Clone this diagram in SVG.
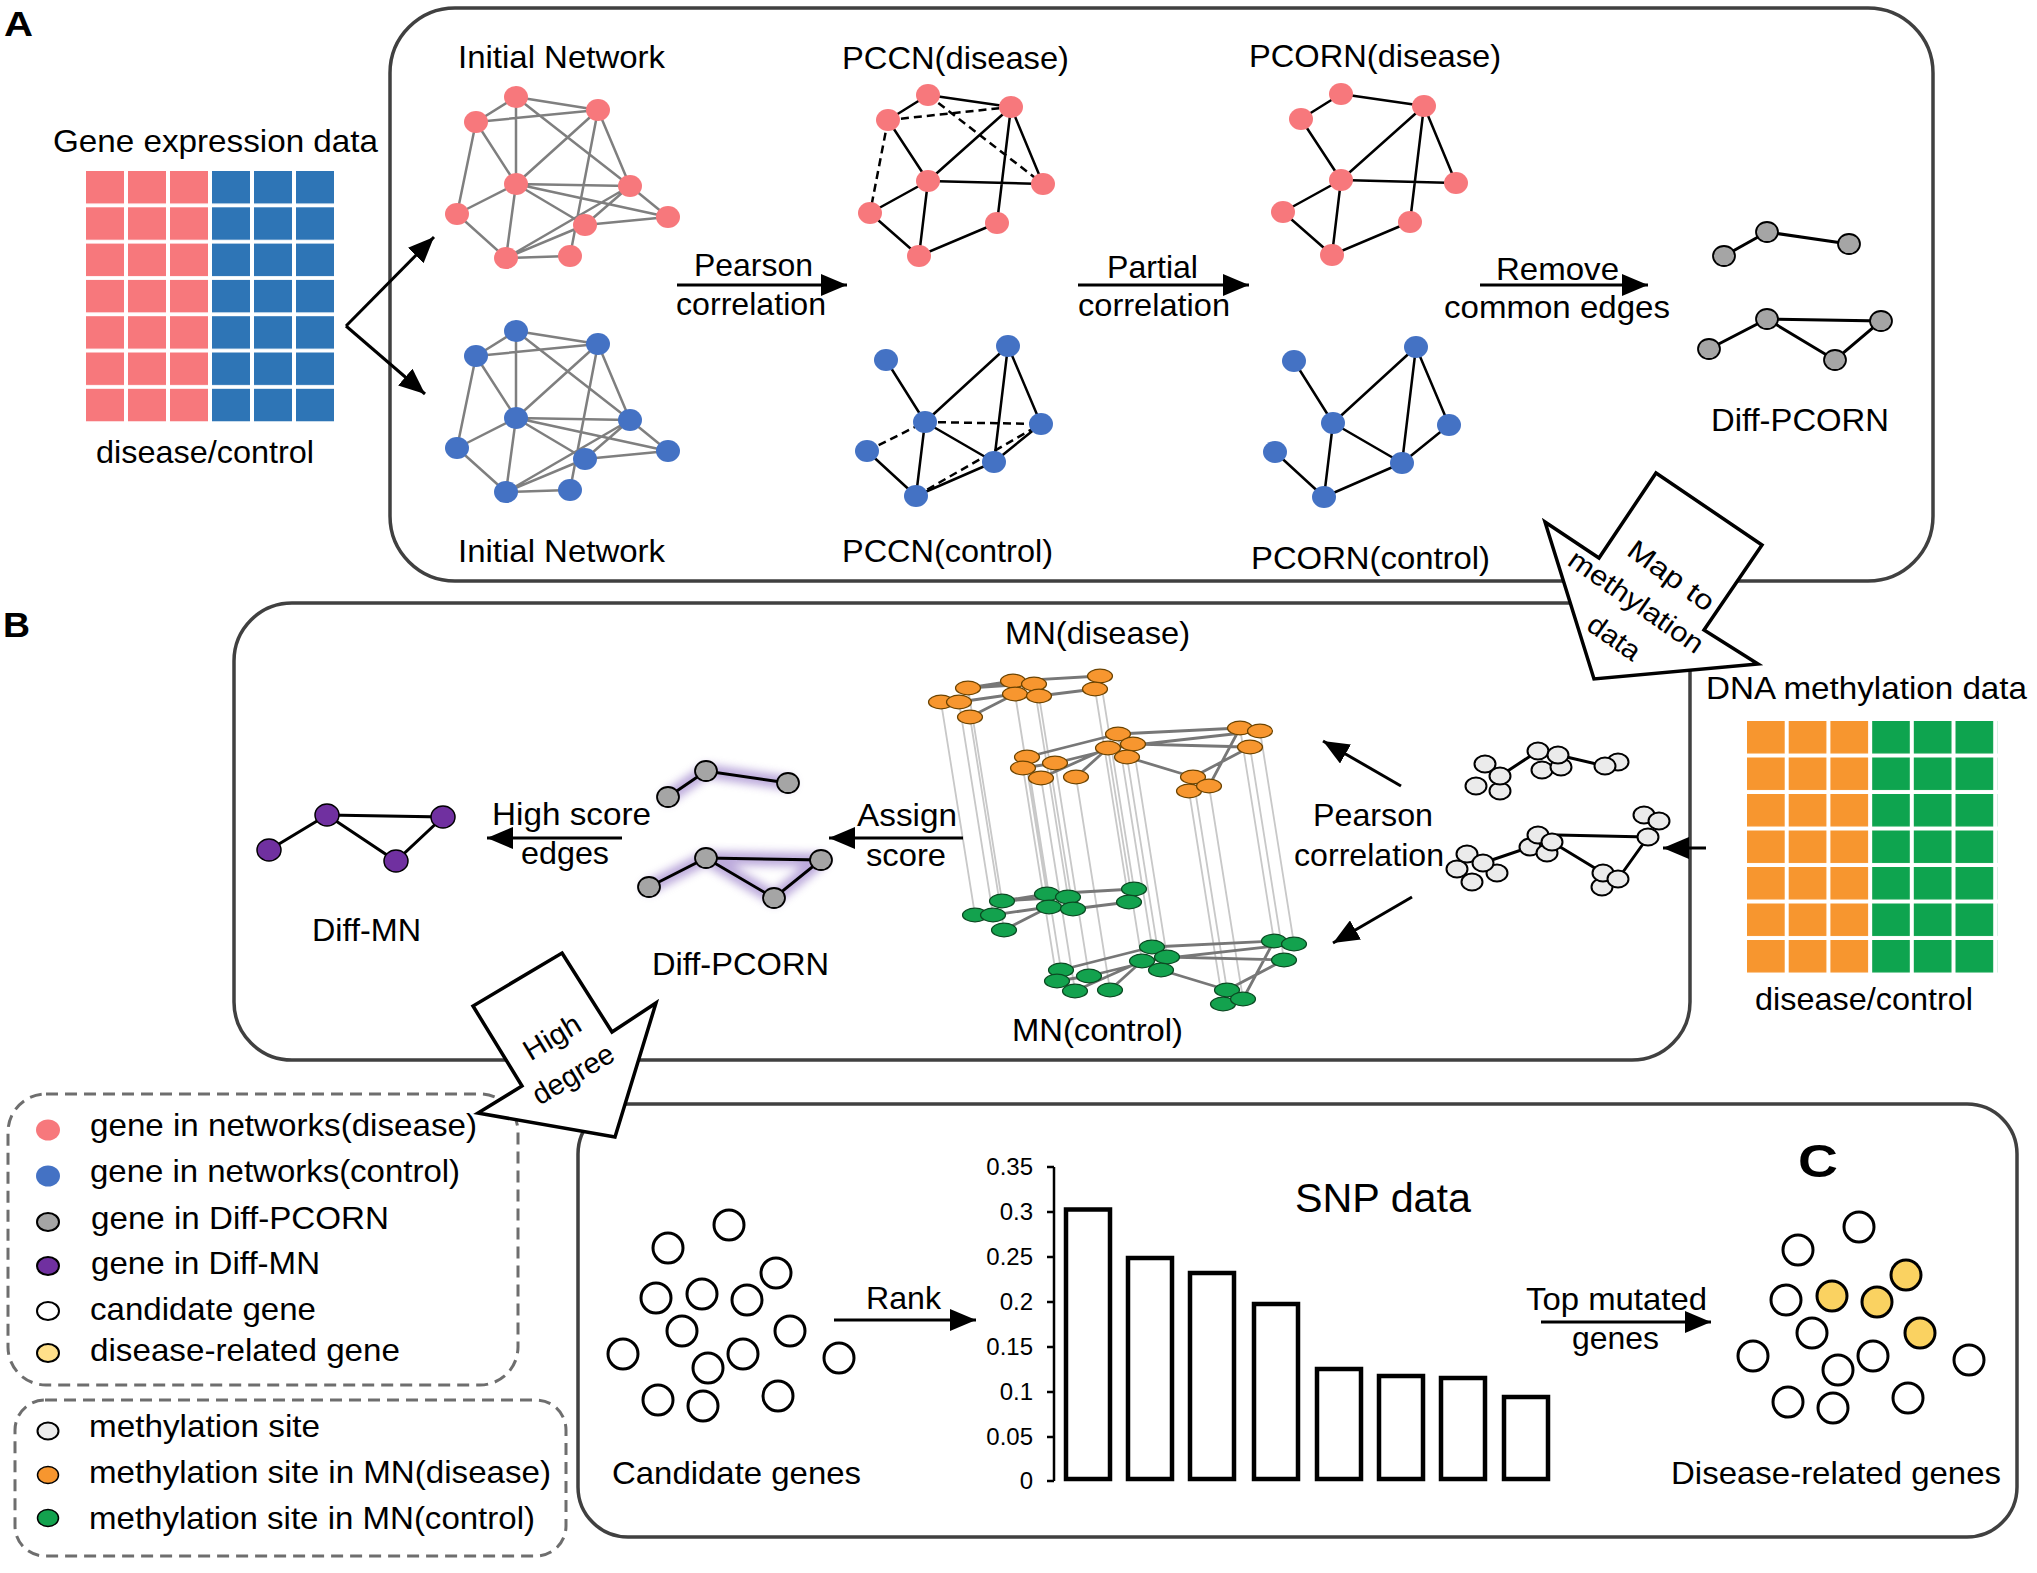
<svg xmlns="http://www.w3.org/2000/svg" width="2037" height="1573" viewBox="0 0 2037 1573">
<style>
text{font-family:"Liberation Sans",Arimo,Arial,sans-serif;fill:#000}
.t{font-size:32px}
.lbl{font-size:35px;font-weight:bold}
.ax{font-size:24px;text-anchor:end}
.box{fill:none;stroke:#404040;stroke-width:3.5}
.leg{fill:none;stroke:#6E6E6E;stroke-width:3;stroke-dasharray:12 7}
.ge{stroke:#7F7F7F;stroke-width:2.5;fill:none}
.be{stroke:#000;stroke-width:2.5;fill:none}
.de{stroke:#000;stroke-width:2.5;stroke-dasharray:8 5;fill:none}
.arr{stroke:#000;stroke-width:3;fill:none;marker-end:url(#ah)}
.blk{fill:#fff;stroke:#000;stroke-width:3.5;stroke-linejoin:miter}
.gn{fill:#A5A5A5;stroke:#000;stroke-width:1.8}
.pn{fill:#7030A0;stroke:#000;stroke-width:1.5}
.wn{fill:#EBEBEB;stroke:#000;stroke-width:2}
.cn{fill:#fff;stroke:#000;stroke-width:3}
.yn{fill:#FAD261;stroke:#000;stroke-width:3}
.me{stroke:#777;stroke-width:2.8;fill:none}
.vl{stroke:#C8C8C8;stroke-width:1.8;fill:none}
.bar{fill:#fff;stroke:#000;stroke-width:4.5}
.ke{stroke:#000;stroke-width:3;fill:none}
.glow{stroke:#9072C4;stroke-width:14;stroke-linecap:round;stroke-linejoin:round;opacity:.6;fill:none;filter:url(#blur)}
</style>
<defs>
<marker id="ah" viewBox="0 0 10 10" refX="10" refY="5" markerWidth="26" markerHeight="22" markerUnits="userSpaceOnUse" orient="auto" preserveAspectRatio="none"><path d="M0,0L10,5L0,10z" fill="#000"/></marker>
<filter id="blur" x="-30%" y="-80%" width="160%" height="260%"><feGaussianBlur stdDeviation="4.5"/></filter>
<pattern id="pP" x="86" y="171" width="42" height="36.3" patternUnits="userSpaceOnUse"><rect width="38" height="32.5" fill="#F7787C"/></pattern>
<pattern id="pB" x="86" y="171" width="42" height="36.3" patternUnits="userSpaceOnUse"><rect width="38" height="32.5" fill="#2E75B6"/></pattern>
<pattern id="pO" x="1747" y="721" width="41.7" height="36.5" patternUnits="userSpaceOnUse"><rect width="37.7" height="32.5" fill="#F7962F"/></pattern>
<pattern id="pG" x="1747" y="721" width="41.7" height="36.5" patternUnits="userSpaceOnUse"><rect width="37.7" height="32.5" fill="#0EA44F"/></pattern>
<path id="inE" d="M516 97L598 110M516 97L476 122M598 110L476 122M516 97L516 184M516 97L630 186M598 110L516 184M598 110L630 186M598 110L570 256M476 122L516 184M476 122L457 214M516 184L630 186M516 184L457 214M516 184L585 225M516 184L668 217M516 184L506 258M630 186L668 217M630 186L506 258M630 186L585 225M457 214L506 258M585 225L668 217M585 225L506 258M506 258L570 256"/>
<g id="inN"><ellipse cx="516" cy="97" rx="12" ry="11"/><ellipse cx="598" cy="110" rx="12" ry="11"/><ellipse cx="476" cy="122" rx="12" ry="11"/><ellipse cx="516" cy="184" rx="12" ry="11"/><ellipse cx="630" cy="186" rx="12" ry="11"/><ellipse cx="457" cy="214" rx="12" ry="11"/><ellipse cx="668" cy="217" rx="12" ry="11"/><ellipse cx="585" cy="225" rx="12" ry="11"/><ellipse cx="506" cy="258" rx="12" ry="11"/><ellipse cx="570" cy="256" rx="12" ry="11"/></g>
<path id="pdE" d="M928 95L1011 107M928 95L888 120M888 120L928 181M1011 107L928 181M1011 107L1043 184M1011 107L997 223M928 181L1043 184M928 181L870 213M928 181L919 256M870 213L919 256M919 256L997 223"/>
<g id="pdN"><ellipse cx="928" cy="95" rx="12" ry="11"/><ellipse cx="1011" cy="107" rx="12" ry="11"/><ellipse cx="888" cy="120" rx="12" ry="11"/><ellipse cx="928" cy="181" rx="12" ry="11"/><ellipse cx="1043" cy="184" rx="12" ry="11"/><ellipse cx="870" cy="213" rx="12" ry="11"/><ellipse cx="997" cy="223" rx="12" ry="11"/><ellipse cx="919" cy="256" rx="12" ry="11"/></g>
<path id="pcE" d="M886 360L925 422M925 422L1008 346M1008 346L1041 424M1008 346L994 462M925 422L994 462M925 422L916 496M867 451L916 496M916 496L994 462M994 462L1041 424"/>
<g id="pcN"><ellipse cx="886" cy="360" rx="12" ry="11"/><ellipse cx="1008" cy="346" rx="12" ry="11"/><ellipse cx="925" cy="422" rx="12" ry="11"/><ellipse cx="1041" cy="424" rx="12" ry="11"/><ellipse cx="867" cy="451" rx="12" ry="11"/><ellipse cx="994" cy="462" rx="12" ry="11"/><ellipse cx="916" cy="496" rx="12" ry="11"/></g>
<path id="mnE" d="M968 688L1013 681M968 688L1034 684M959 702L1015 694M970 717L1015 694M1013 681L1100 676M1039 696L1095 689M1118 734L1240 728M1108 748L1260 731M1133 744L1250 747M1127 757L1193 777M1193 777L1250 747M1209 786L1240 728M1027 757L1118 734M1041 778L1108 748M1076 777L1108 748M1055 763L1133 744M1023 768L1055 763"/>
<g id="mnN"><ellipse cx="941" cy="702" rx="12.5" ry="6.8"/><ellipse cx="959" cy="702" rx="12.5" ry="6.8"/><ellipse cx="968" cy="688" rx="12.5" ry="6.8"/><ellipse cx="970" cy="717" rx="12.5" ry="6.8"/><ellipse cx="1013" cy="681" rx="12.5" ry="6.8"/><ellipse cx="1034" cy="684" rx="12.5" ry="6.8"/><ellipse cx="1015" cy="694" rx="12.5" ry="6.8"/><ellipse cx="1039" cy="696" rx="12.5" ry="6.8"/><ellipse cx="1100" cy="676" rx="12.5" ry="6.8"/><ellipse cx="1095" cy="689" rx="12.5" ry="6.8"/><ellipse cx="1118" cy="734" rx="12.5" ry="6.8"/><ellipse cx="1240" cy="728" rx="12.5" ry="6.8"/><ellipse cx="1260" cy="731" rx="12.5" ry="6.8"/><ellipse cx="1108" cy="748" rx="12.5" ry="6.8"/><ellipse cx="1133" cy="744" rx="12.5" ry="6.8"/><ellipse cx="1250" cy="747" rx="12.5" ry="6.8"/><ellipse cx="1027" cy="757" rx="12.5" ry="6.8"/><ellipse cx="1055" cy="763" rx="12.5" ry="6.8"/><ellipse cx="1127" cy="757" rx="12.5" ry="6.8"/><ellipse cx="1023" cy="768" rx="12.5" ry="6.8"/><ellipse cx="1041" cy="778" rx="12.5" ry="6.8"/><ellipse cx="1076" cy="777" rx="12.5" ry="6.8"/><ellipse cx="1193" cy="777" rx="12.5" ry="6.8"/><ellipse cx="1189" cy="791" rx="12.5" ry="6.8"/><ellipse cx="1209" cy="786" rx="12.5" ry="6.8"/></g>
<g id="cand"><circle cx="729" cy="1225" r="15"/><circle cx="668" cy="1248" r="15"/><circle cx="656" cy="1298" r="15"/><circle cx="682" cy="1331" r="15"/><circle cx="623" cy="1354" r="15"/><circle cx="743" cy="1354" r="15"/><circle cx="708" cy="1368" r="15"/><circle cx="839" cy="1358" r="15"/><circle cx="658" cy="1400" r="15"/><circle cx="703" cy="1406" r="15"/><circle cx="778" cy="1396" r="15"/></g>
</defs>
<rect width="2037" height="1573" fill="#fff"/>

<g id="panel-boxes">
<rect class="box" x="390" y="8" width="1543" height="573" rx="65"/>
<rect class="box" x="234" y="603" width="1456" height="457" rx="58"/>
<rect class="box" x="578" y="1104" width="1439" height="433" rx="50"/>
<rect class="leg" x="8" y="1094" width="510" height="291" rx="38"/>
<rect class="leg" x="15" y="1400" width="551" height="156" rx="30"/>
</g>

<g id="labels">
<text class="lbl" x="4" y="36" textLength="29" lengthAdjust="spacingAndGlyphs">A</text>
<text class="lbl" x="3" y="637" textLength="27" lengthAdjust="spacingAndGlyphs">B</text>
<text class="lbl" x="1798" y="1177" style="font-size:46px" textLength="40" lengthAdjust="spacingAndGlyphs">C</text>
</g>

<g id="gene-expression-data">
<text class="t" x="53" y="152" textLength="325" lengthAdjust="spacingAndGlyphs">Gene expression data</text>
<rect x="86" y="171" width="126" height="251" fill="url(#pP)"/>
<rect x="212" y="171" width="126" height="251" fill="url(#pB)"/>
<text class="t" x="96" y="463" textLength="218" lengthAdjust="spacingAndGlyphs">disease/control</text>
</g>

<g id="initial-network-disease">
<text class="t" x="458" y="68" textLength="207" lengthAdjust="spacingAndGlyphs">Initial Network</text>
<use href="#inE" class="ge"/>
<use href="#inN" fill="#F7787C"/>
</g>
<g id="initial-network-control">
<use href="#inE" class="ge" transform="translate(0,234)"/>
<use href="#inN" fill="#4472C4" transform="translate(0,234)"/>
<text class="t" x="458" y="562" textLength="207" lengthAdjust="spacingAndGlyphs">Initial Network</text>
</g>

<g id="pccn-disease">
<text class="t" x="842" y="69" textLength="227" lengthAdjust="spacingAndGlyphs">PCCN(disease)</text>
<use href="#pdE" class="be"/>
<path class="de" d="M888 120L1011 107M928 95L1043 184M888 120L870 213"/>
<use href="#pdN" fill="#F7787C"/>
</g>
<g id="pccn-control">
<use href="#pcE" class="be"/>
<path class="de" d="M925 422L1041 424M867 451L925 422M916 496L1041 424"/>
<use href="#pcN" fill="#4472C4"/>
<text class="t" x="842" y="562" textLength="211" lengthAdjust="spacingAndGlyphs">PCCN(control)</text>
</g>

<g id="pcorn-disease">
<text class="t" x="1249" y="67" textLength="252" lengthAdjust="spacingAndGlyphs">PCORN(disease)</text>
<use href="#pdE" class="be" transform="translate(413,-1)"/>
<use href="#pdN" fill="#F7787C" transform="translate(413,-1)"/>
</g>
<g id="pcorn-control">
<use href="#pcE" class="be" transform="translate(408,1)"/>
<use href="#pcN" fill="#4472C4" transform="translate(408,1)"/>
<text class="t" x="1251" y="569" textLength="239" lengthAdjust="spacingAndGlyphs">PCORN(control)</text>
</g>

<g id="diff-pcorn-a">
<path class="ke" d="M1724 256L1767 232L1849 244M1709 349L1767 319L1881 321L1835 360L1767 319"/>
<ellipse class="gn" cx="1724" cy="256" rx="11" ry="10"/><ellipse class="gn" cx="1767" cy="232" rx="11" ry="10"/><ellipse class="gn" cx="1849" cy="244" rx="11" ry="10"/><ellipse class="gn" cx="1709" cy="349" rx="11" ry="10"/><ellipse class="gn" cx="1767" cy="319" rx="11" ry="10"/><ellipse class="gn" cx="1881" cy="321" rx="11" ry="10"/><ellipse class="gn" cx="1835" cy="360" rx="11" ry="10"/>
<text class="t" x="1711" y="431" textLength="178" lengthAdjust="spacingAndGlyphs">Diff-PCORN</text>
</g>

<g id="mn-networks">
<text class="t" x="1005" y="644" textLength="185" lengthAdjust="spacingAndGlyphs">MN(disease)</text>
<path class="vl" d="M968 688l34 213M941 702l34 213M959 702l34 213M1013 681l34 213M1034 684l34 213M1015 694l34 213M1039 696l34 213M1100 676l34 213M1095 689l34 213M970 717l34 213M1118 734l34 213M1240 728l34 213M1260 731l34 213M1108 748l34 213M1133 744l34 213M1250 747l34 213M1027 757l34 213M1055 763l34 213M1127 757l34 213M1023 768l34 213M1041 778l34 213M1076 777l34 213M1193 777l34 213M1189 791l34 213M1209 786l34 213"/>
<use href="#mnE" class="me"/>
<use href="#mnN" fill="#F7962F" stroke="#6B4300" stroke-width="1.2"/>
<use href="#mnE" class="me" transform="translate(34,213)"/>
<use href="#mnN" fill="#13A24E" stroke="#0B4A22" stroke-width="1.2" transform="translate(34,213)"/>
<text class="t" x="1012" y="1041" textLength="171" lengthAdjust="spacingAndGlyphs">MN(control)</text>
</g>

<g id="methylation-sites">
<path class="ke" d="M1500 776L1538 751M1558 755L1605 766M1483 863L1530 847M1557 835L1648 837M1552 842L1603 873M1618 879L1648 837"/>
<ellipse class="wn" cx="1476" cy="786" rx="10.5" ry="8.5"/><ellipse class="wn" cx="1485" cy="764" rx="10.5" ry="8.5"/><ellipse class="wn" cx="1500" cy="791" rx="10.5" ry="8.5"/><ellipse class="wn" cx="1500" cy="776" rx="10.5" ry="8.5"/><ellipse class="wn" cx="1542" cy="770" rx="10.5" ry="8.5"/><ellipse class="wn" cx="1538" cy="751" rx="10.5" ry="8.5"/><ellipse class="wn" cx="1561" cy="767" rx="10.5" ry="8.5"/><ellipse class="wn" cx="1558" cy="755" rx="10.5" ry="8.5"/><ellipse class="wn" cx="1618" cy="762" rx="10.5" ry="8.5"/><ellipse class="wn" cx="1605" cy="766" rx="10.5" ry="8.5"/>
<ellipse class="wn" cx="1457" cy="869" rx="10.5" ry="8.5"/><ellipse class="wn" cx="1467" cy="854" rx="10.5" ry="8.5"/><ellipse class="wn" cx="1472" cy="882" rx="10.5" ry="8.5"/><ellipse class="wn" cx="1497" cy="873" rx="10.5" ry="8.5"/><ellipse class="wn" cx="1483" cy="863" rx="10.5" ry="8.5"/><ellipse class="wn" cx="1530" cy="847" rx="10.5" ry="8.5"/><ellipse class="wn" cx="1538" cy="835" rx="10.5" ry="8.5"/><ellipse class="wn" cx="1547" cy="853" rx="10.5" ry="8.5"/><ellipse class="wn" cx="1552" cy="842" rx="10.5" ry="8.5"/><ellipse class="wn" cx="1602" cy="887" rx="10.5" ry="8.5"/><ellipse class="wn" cx="1603" cy="873" rx="10.5" ry="8.5"/><ellipse class="wn" cx="1618" cy="879" rx="10.5" ry="8.5"/><ellipse class="wn" cx="1644" cy="815" rx="10.5" ry="8.5"/><ellipse class="wn" cx="1659" cy="821" rx="10.5" ry="8.5"/><ellipse class="wn" cx="1648" cy="837" rx="10.5" ry="8.5"/>
</g>

<g id="dna-methylation-data">
<text class="t" x="1706" y="699" textLength="321" lengthAdjust="spacingAndGlyphs">DNA methylation data</text>
<rect x="1747" y="721" width="125.1" height="252" fill="url(#pO)"/>
<rect x="1872.1" y="721" width="125.1" height="252" fill="url(#pG)"/>
<text class="t" x="1755" y="1010" textLength="218" lengthAdjust="spacingAndGlyphs">disease/control</text>
</g>

<g id="diff-pcorn-b">
<path class="glow" d="M668 797L706 771L788 783M649 887L706 858L821 860L774 898L706 858"/>
<path class="ke" d="M668 797L706 771L788 783M649 887L706 858L821 860L774 898L706 858"/>
<ellipse class="gn" cx="668" cy="797" rx="11" ry="10"/><ellipse class="gn" cx="706" cy="771" rx="11" ry="10"/><ellipse class="gn" cx="788" cy="783" rx="11" ry="10"/><ellipse class="gn" cx="649" cy="887" rx="11" ry="10"/><ellipse class="gn" cx="706" cy="858" rx="11" ry="10"/><ellipse class="gn" cx="821" cy="860" rx="11" ry="10"/><ellipse class="gn" cx="774" cy="898" rx="11" ry="10"/>
<text class="t" x="652" y="975" textLength="177" lengthAdjust="spacingAndGlyphs">Diff-PCORN</text>
</g>

<g id="diff-mn">
<path class="ke" d="M269 850L327 815L443 817L396 861L327 815"/>
<ellipse class="pn" cx="269" cy="850" rx="12" ry="11"/><ellipse class="pn" cx="327" cy="815" rx="12" ry="11"/><ellipse class="pn" cx="443" cy="817" rx="12" ry="11"/><ellipse class="pn" cx="396" cy="861" rx="12" ry="11"/>
<text class="t" x="312" y="941" textLength="109" lengthAdjust="spacingAndGlyphs">Diff-MN</text>
</g>

<g id="candidate-genes">
<use href="#cand" class="cn"/>
<circle class="cn" cx="776" cy="1273" r="15"/><circle class="cn" cx="702" cy="1294" r="15"/><circle class="cn" cx="747" cy="1300" r="15"/><circle class="cn" cx="790" cy="1331" r="15"/>
<text class="t" x="612" y="1484" textLength="249" lengthAdjust="spacingAndGlyphs">Candidate genes</text>
</g>

<g id="snp-chart">
<text class="t" x="1295" y="1212" style="font-size:40px" textLength="176" lengthAdjust="spacingAndGlyphs">SNP data</text>
<path d="M1054 1167V1481M1047 1167H1054M1047 1212H1054M1047 1257H1054M1047 1302H1054M1047 1347H1054M1047 1392H1054M1047 1437H1054M1047 1481H1054" stroke="#000" stroke-width="2.5" fill="none"/>
<text class="ax" x="1033" y="1175">0.35</text>
<text class="ax" x="1033" y="1220">0.3</text>
<text class="ax" x="1033" y="1265">0.25</text>
<text class="ax" x="1033" y="1310">0.2</text>
<text class="ax" x="1033" y="1355">0.15</text>
<text class="ax" x="1033" y="1400">0.1</text>
<text class="ax" x="1033" y="1445">0.05</text>
<text class="ax" x="1033" y="1489">0</text>
<rect class="bar" x="1066" y="1209.5" width="44" height="269.5"/>
<rect class="bar" x="1128" y="1258" width="44" height="221"/>
<rect class="bar" x="1190" y="1273" width="44" height="206"/>
<rect class="bar" x="1254" y="1304" width="44" height="175"/>
<rect class="bar" x="1317" y="1369" width="44" height="110"/>
<rect class="bar" x="1379" y="1376" width="44" height="103"/>
<rect class="bar" x="1441" y="1378" width="44" height="101"/>
<rect class="bar" x="1504" y="1397" width="44" height="82"/>
</g>

<g id="disease-related-genes">
<use href="#cand" class="cn" transform="translate(1130,2)"/>
<circle class="yn" cx="1906" cy="1275" r="15"/><circle class="yn" cx="1832" cy="1296" r="15"/><circle class="yn" cx="1877" cy="1302" r="15"/><circle class="yn" cx="1920" cy="1333" r="15"/>
<text class="t" x="1671" y="1484" textLength="330" lengthAdjust="spacingAndGlyphs">Disease-related genes</text>
</g>

<g id="legend">
<ellipse cx="48" cy="1130" rx="12" ry="10.5" fill="#F7787C"/>
<ellipse cx="48" cy="1176" rx="12" ry="10.5" fill="#4472C4"/>
<ellipse cx="48" cy="1222" rx="11" ry="9" fill="#A5A5A5" stroke="#000" stroke-width="2"/>
<ellipse cx="48" cy="1266" rx="11" ry="9" fill="#7030A0" stroke="#000" stroke-width="2"/>
<ellipse cx="48" cy="1311" rx="11" ry="9" fill="#fff" stroke="#000" stroke-width="2"/>
<ellipse cx="48" cy="1353" rx="11" ry="9" fill="#FFE08A" stroke="#000" stroke-width="2"/>
<ellipse cx="48" cy="1431" rx="10.5" ry="8.5" fill="#EBEBEB" stroke="#000" stroke-width="2"/>
<ellipse cx="48" cy="1475" rx="10.5" ry="8.5" fill="#F7962F" stroke="#000" stroke-width="1.5"/>
<ellipse cx="48" cy="1518" rx="10.5" ry="8.5" fill="#13A24E" stroke="#000" stroke-width="1.5"/>
<text class="t" x="90" y="1136" textLength="387" lengthAdjust="spacingAndGlyphs">gene in networks(disease)</text>
<text class="t" x="90" y="1182" textLength="370" lengthAdjust="spacingAndGlyphs">gene in networks(control)</text>
<text class="t" x="91" y="1229" textLength="298" lengthAdjust="spacingAndGlyphs">gene in Diff-PCORN</text>
<text class="t" x="91" y="1274" textLength="229" lengthAdjust="spacingAndGlyphs">gene in Diff-MN</text>
<text class="t" x="90" y="1320" textLength="226" lengthAdjust="spacingAndGlyphs">candidate gene</text>
<text class="t" x="90" y="1361" textLength="310" lengthAdjust="spacingAndGlyphs">disease-related gene</text>
<text class="t" x="89" y="1437" textLength="231" lengthAdjust="spacingAndGlyphs">methylation site</text>
<text class="t" x="89" y="1483" textLength="462" lengthAdjust="spacingAndGlyphs">methylation site in MN(disease)</text>
<text class="t" x="89" y="1529" textLength="446" lengthAdjust="spacingAndGlyphs">methylation site in MN(control)</text>
</g>

<g id="connectors">
<path class="arr" d="M346 326L434 237"/>
<path class="arr" d="M346 326L425 394"/>
<path class="arr" d="M677 285H847"/>
<text class="t" x="694" y="276" textLength="119" lengthAdjust="spacingAndGlyphs">Pearson</text>
<text class="t" x="676" y="315" textLength="150" lengthAdjust="spacingAndGlyphs">correlation</text>
<path class="arr" d="M1078 285H1249"/>
<text class="t" x="1107" y="278" textLength="91" lengthAdjust="spacingAndGlyphs">Partial</text>
<text class="t" x="1078" y="316" textLength="152" lengthAdjust="spacingAndGlyphs">correlation</text>
<path class="arr" d="M1480 285H1648"/>
<text class="t" x="1496" y="280" textLength="123" lengthAdjust="spacingAndGlyphs">Remove</text>
<text class="t" x="1444" y="318" textLength="226" lengthAdjust="spacingAndGlyphs">common edges</text>
<path class="arr" d="M1706 848H1663"/>
<path class="arr" d="M1401 786L1323 741"/>
<path class="arr" d="M1412 897L1333 943"/>
<text class="t" x="1313" y="826" textLength="120" lengthAdjust="spacingAndGlyphs">Pearson</text>
<text class="t" x="1294" y="866" textLength="150" lengthAdjust="spacingAndGlyphs">correlation</text>
<path class="arr" d="M963 838H829"/>
<text class="t" x="857" y="826" textLength="100" lengthAdjust="spacingAndGlyphs">Assign</text>
<text class="t" x="866" y="866" textLength="80" lengthAdjust="spacingAndGlyphs">score</text>
<path class="arr" d="M622 838H487"/>
<text class="t" x="492" y="825" textLength="159" lengthAdjust="spacingAndGlyphs">High score</text>
<text class="t" x="521" y="864" textLength="88" lengthAdjust="spacingAndGlyphs">edges</text>
<path class="arr" d="M834 1320H976"/>
<text class="t" x="866" y="1309" textLength="75" lengthAdjust="spacingAndGlyphs">Rank</text>
<path class="arr" d="M1541 1322H1711"/>
<text class="t" x="1526" y="1310" textLength="181" lengthAdjust="spacingAndGlyphs">Top mutated</text>
<text class="t" x="1572" y="1349" textLength="87" lengthAdjust="spacingAndGlyphs">genes</text>
<g id="map-to-methylation-arrow">
<polygon class="blk" points="1656,473 1762,545 1704,630 1758,664 1594,679 1545,522 1599,558"/>
<text style="font-size:28px" text-anchor="middle" transform="translate(1671,576) rotate(36)" y="9" textLength="100" lengthAdjust="spacingAndGlyphs">Map to</text>
<text style="font-size:28px" text-anchor="middle" transform="translate(1636,602) rotate(35)" y="9" textLength="158" lengthAdjust="spacingAndGlyphs">methylation</text>
<text style="font-size:28px" text-anchor="middle" transform="translate(1614,638) rotate(35)" y="9" textLength="58" lengthAdjust="spacingAndGlyphs">data</text>
</g>
<g id="high-degree-arrow">
<polygon class="blk" points="562,953 612,1032 656,1003 615,1137 478,1113 522,1086 473,1006"/>
<text style="font-size:29px" text-anchor="middle" transform="translate(552,1037) rotate(-31)" y="10" textLength="62" lengthAdjust="spacingAndGlyphs">High</text>
<text style="font-size:29px" text-anchor="middle" transform="translate(573,1074) rotate(-31)" y="10" textLength="90" lengthAdjust="spacingAndGlyphs">degree</text>
</g>
</g>
</svg>
